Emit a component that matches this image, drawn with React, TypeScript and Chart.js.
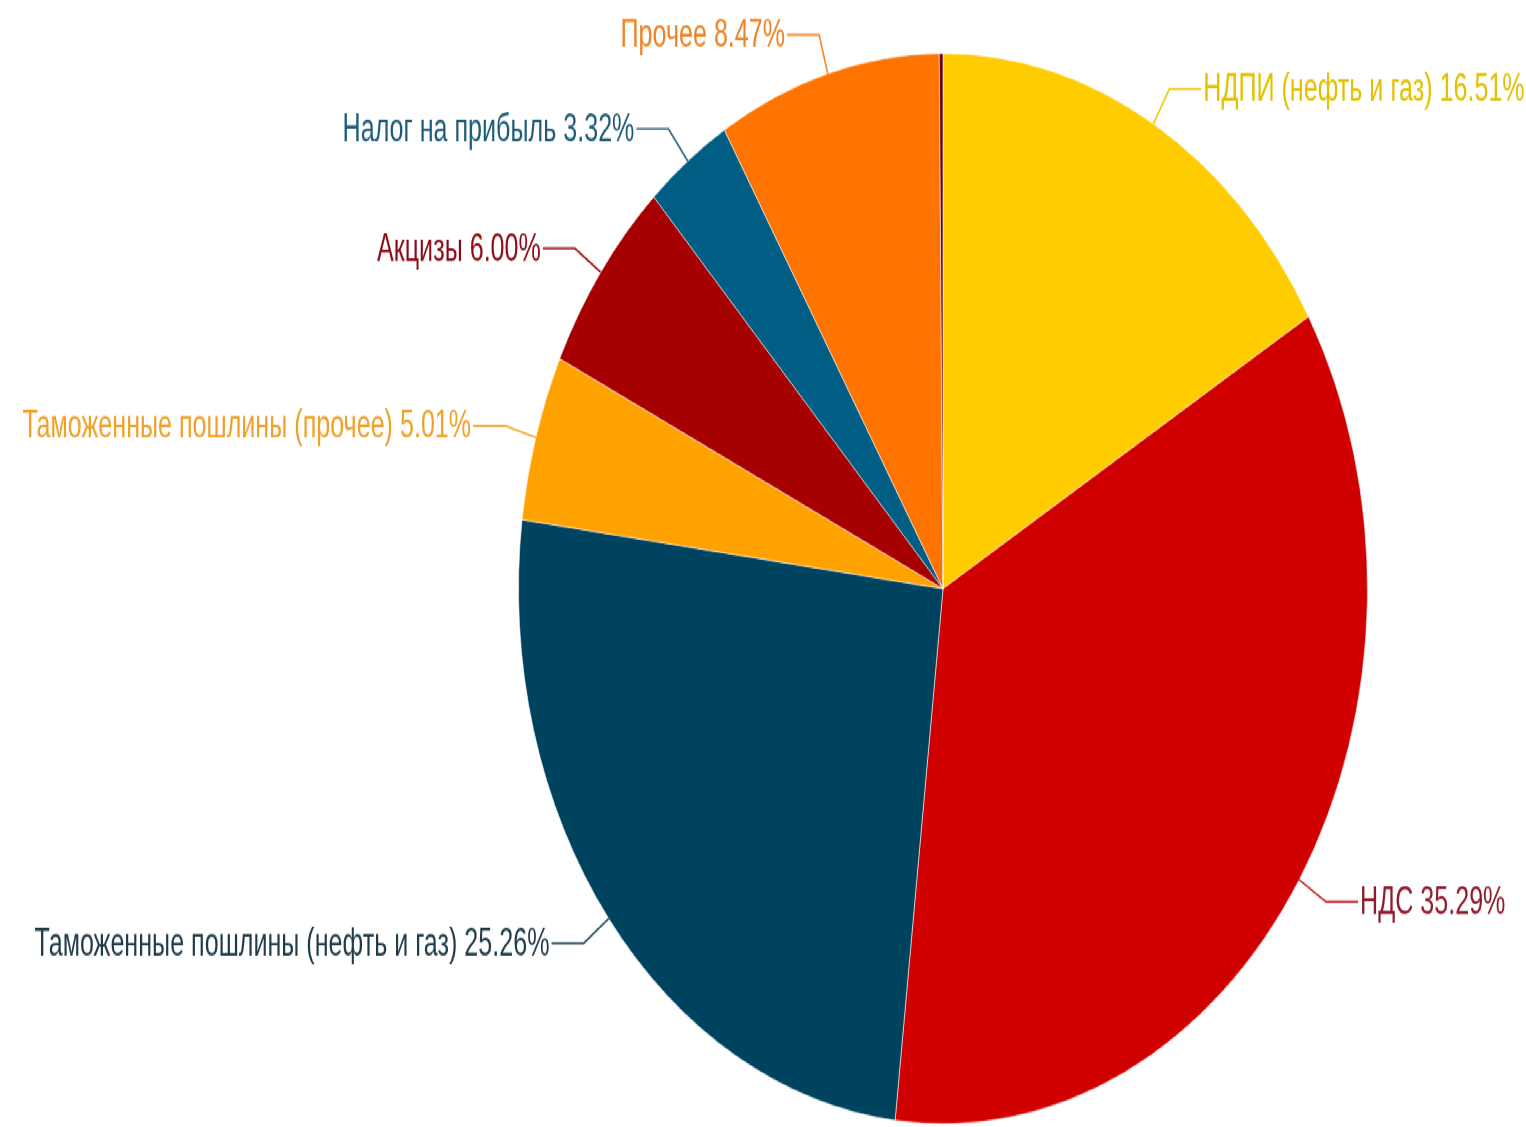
import React, { useEffect, useRef } from "react";
import { Chart, registerables } from "chart.js";

Chart.register(...registerables);

const categories: string[] = [
  "НДПИ (нефть и газ)",
  "НДС",
  "Таможенные пошлины (нефть и газ)",
  "Таможенные пошлины (прочее)",
  "Акцизы",
  "Налог на прибыль",
  "Прочее",
  "",
];
const shares: number[] = [16.51, 35.29, 25.26, 5.01, 6.0, 3.32, 8.47, 0.14];
const sliceColors: string[] = [
  "#FFCC00",
  "#D00000",
  "#00435E",
  "#FFA200",
  "#A60000",
  "#005E85",
  "#FF7300",
  "#6E0010",
];
const textColors: string[] = [
  "#E3C000",
  "#8E1B2C",
  "#1F3B4A",
  "#EFA12A",
  "#8C0A16",
  "#1E5B78",
  "#EE8226",
  "#6E0010",
];
const lineColors: string[] = [
  "#F2C800",
  "#C42A32",
  "#2B4E5E",
  "#F2A62E",
  "#9A0E1A",
  "#2A6480",
  "#F08A30",
  "#6E0010",
];

const STRETCH = 1127 / 894;
const SX = 0.81;

const leaderPlugin = {
  id: "leaderLabels",
  afterDatasetsDraw(chart: any) {
    const ctx = chart.ctx as CanvasRenderingContext2D;
    const meta = chart.getDatasetMeta(0);
    meta.data.forEach((arc: any, i: number) => {
      if (!categories[i]) return;
      const { x, y, startAngle, endAngle, outerRadius } = arc.getProps(
        ["x", "y", "startAngle", "endAngle", "outerRadius"],
        true
      );
      const a = (startAngle + endAngle) / 2;
      const cos = Math.cos(a);
      const sin = Math.sin(a);
      const r0 = outerRadius;
      const r1 = outerRadius + 32;
      const ex = x + cos * r0;
      const ey = y + sin * r0;
      const bx = x + cos * r1;
      const by = y + sin * r1;
      const right = cos >= 0;
      const hx = bx + (right ? 32 : -32);
      ctx.save();
      ctx.strokeStyle = lineColors[i];
      ctx.lineWidth = 1.6;
      ctx.beginPath();
      ctx.moveTo(ex, ey);
      ctx.lineTo(bx, by);
      ctx.lineTo(hx, by);
      ctx.stroke();
      const text = `${categories[i]} ${shares[i].toFixed(2)}%`;
      ctx.fillStyle = textColors[i];
      ctx.font = '31px "Liberation Sans", Arial, sans-serif';
      ctx.textBaseline = "middle";
      ctx.textAlign = right ? "left" : "right";
      ctx.scale(SX, 1);
      const tx = (hx + (right ? 2 : -2)) / SX;
      ctx.fillText(text, tx, by + 1);
      ctx.restore();
    });
  },
};

export default function App() {
  const canvasRef = useRef<HTMLCanvasElement | null>(null);

  useEffect(() => {
    if (!canvasRef.current) return;
    const chart = new Chart(canvasRef.current, {
      type: "pie",
      data: {
        labels: categories,
        datasets: [
          {
            data: shares,
            backgroundColor: sliceColors,
            borderColor: "rgba(255,255,255,0.55)",
            borderWidth: 1,
          },
        ],
      },
      options: {
        animation: false,
        responsive: true,
        maintainAspectRatio: false,
        layout: { padding: { left: 518, right: 158, top: 42, bottom: 2 } },
        plugins: {
          legend: { display: false },
          tooltip: { enabled: false },
        },
      },
      plugins: [leaderPlugin],
    });
    return () => chart.destroy();
  }, []);

  return (
    <div
      style={{
        position: "absolute",
        left: 0,
        top: 0,
        width: 1526,
        height: 894,
        transform: `scaleY(${STRETCH})`,
        transformOrigin: "0 0",
        background: "#fff",
      }}
    >
      <canvas ref={canvasRef} />
    </div>
  );
}
